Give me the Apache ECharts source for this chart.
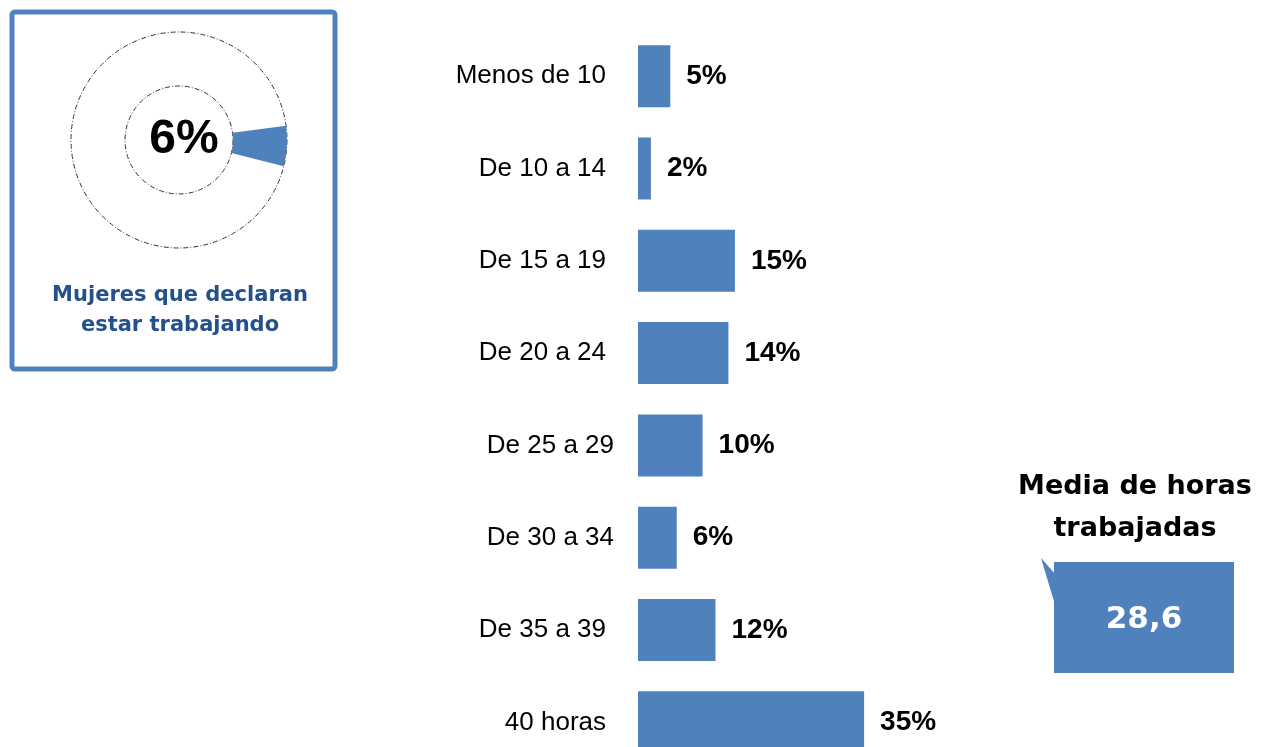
<!DOCTYPE html>
<html>
<head>
<meta charset="utf-8">
<script src="https://cdn.jsdelivr.net/npm/echarts@6/dist/echarts.min.js"></script>
<style>
  html, body { margin: 0; padding: 0; background: #ffffff; }
  #chart { width: 1261px; height: 747px; }
</style>
</head>
<body>
<div id="chart"></div>
<script>
// Horas semanales trabajadas
const categories = ['Menos de 10', 'De 10 a 14', 'De 15 a 19', 'De 20 a 24', 'De 25 a 29', 'De 30 a 34', 'De 35 a 39', '40 horas'];
const percentages = [5, 2, 15, 14, 10, 6, 12, 35];

// Mujeres que declaran estar trabajando
const workingShare = 6;
const workingLabel = 'Mujeres que declaran\nestar trabajando';

// Media de horas trabajadas
const meanTitle = 'Media de horas\ntrabajadas';
const meanHours = '28,6';

const BLUE = '#4f81bd';
const GOTHIC = '"DejaVu Sans", "Noto Sans", sans-serif';
const ARIAL = '"Liberation Sans", Arial, sans-serif';

const chart = echarts.init(document.getElementById('chart'), null, { renderer: 'canvas' });

// two rows sit a little further right
const shifted = { 'De 25 a 29': true, 'De 30 a 34': true };

chart.setOption({
  animation: false,
  backgroundColor: '#ffffff',
  grid: { left: 638, top: 30, width: 646, height: 738.5, containLabel: false, outerBoundsMode: 'none' },
  xAxis: { type: 'value', min: 0, max: 100, show: false },
  yAxis: {
    type: 'category',
    data: categories,
    inverse: true,
    axisLine: { show: false },
    axisTick: { show: false },
    axisLabel: {
      margin: 24,
      formatter: (v) => shifted[v] ? '{b|' + v + '}' : '{a|' + v + '}',
      rich: {
        a: { fontFamily: ARIAL, fontSize: 26, color: '#000', padding: [0, 8, 0, 0] },
        b: { fontFamily: ARIAL, fontSize: 26, color: '#000', padding: [0, 0, 0, 0] }
      }
    }
  },
  series: [
    {
      type: 'bar',
      data: percentages,
      barWidth: 62,
      itemStyle: { color: BLUE },
      label: {
        show: true,
        position: 'right',
        distance: 16,
        formatter: '{c}%',
        fontFamily: ARIAL,
        fontWeight: 'bold',
        fontSize: 28,
        color: '#000'
      }
    },
    {
      type: 'pie',
      center: [179, 140],
      radius: [54, 108],
      startAngle: 7.6,
      clockwise: true,
      silent: true,
      label: { show: false },
      labelLine: { show: false },
      data: [
        {
          value: workingShare,
          itemStyle: { color: BLUE },
          label: {
            show: true,
            position: 'center',
            formatter: '{c}%',
            fontFamily: ARIAL,
            fontWeight: 'bold',
            fontSize: 48,
            color: '#000',
            padding: [6, 0, 0, 10]
          }
        },
        { value: 100 - workingShare, itemStyle: { color: 'rgba(0,0,0,0)' } }
      ]
    }
  ],
  graphic: [
    // frame around the donut panel
    {
      type: 'rect',
      shape: { x: 12, y: 12, width: 323, height: 357, r: 3 },
      style: { fill: 'none', stroke: BLUE, lineWidth: 5 },
      z: 1
    },
    // dash-dot outlines of the ring
    {
      type: 'circle',
      shape: { cx: 179, cy: 140, r: 108 },
      style: { fill: 'none', stroke: '#333', lineWidth: 1, lineDash: [5, 2, 1, 2] },
      z: 1
    },
    {
      type: 'circle',
      shape: { cx: 179, cy: 140, r: 54 },
      style: { fill: 'none', stroke: '#333', lineWidth: 1, lineDash: [5, 2, 1, 2] },
      z: 1
    },
    {
      type: 'text',
      x: 180, y: 311,
      style: {
        text: workingLabel,
        fill: '#24508c',
        font: 'bold 21px ' + GOTHIC,
        textAlign: 'center',
        textVerticalAlign: 'middle',
        lineHeight: 30
      },
      z: 2
    },
    // mean hours callout
    {
      type: 'text',
      x: 1135, y: 508,
      style: {
        text: meanTitle,
        fill: '#000',
        font: 'bold 27px ' + GOTHIC,
        textAlign: 'center',
        textVerticalAlign: 'middle',
        lineHeight: 42
      },
      z: 2
    },
    {
      type: 'polygon',
      shape: { points: [[1041, 558], [1056, 575], [1056, 608]] },
      style: { fill: BLUE },
      z: 1
    },
    {
      type: 'rect',
      shape: { x: 1054, y: 562, width: 180, height: 111 },
      style: { fill: BLUE },
      z: 1
    },
    {
      type: 'text',
      x: 1144, y: 620,
      style: {
        text: meanHours,
        fill: '#ffffff',
        font: 'bold 31px ' + GOTHIC,
        textAlign: 'center',
        textVerticalAlign: 'middle'
      },
      z: 2
    }
  ]
});
</script>
</body>
</html>
